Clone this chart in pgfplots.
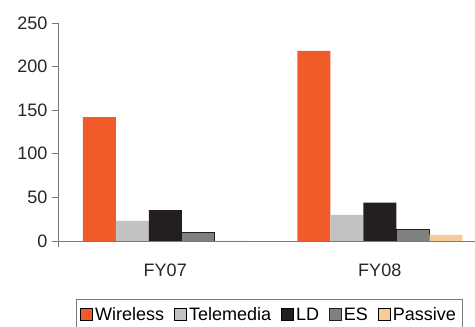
\documentclass[border=0pt]{standalone}
\usepackage{pgfplots}
\pgfplotsset{compat=1.18}
\usepackage{fontspec}
\setmainfont{Liberation Sans}

\definecolor{cWireless}{HTML}{F15A29}
\definecolor{cTele}{HTML}{C2C2C2}
\definecolor{cLD}{HTML}{231F20}
\definecolor{cES}{HTML}{808080}
\definecolor{cPassive}{HTML}{F7CB98}
\definecolor{axisgray}{HTML}{7A7A7A}

\begin{document}
\begin{tikzpicture}[x=1pt,y=1pt]
\useasboundingbox (0,0) rectangle (475,327);
\begin{axis}[
  at={(58pt,86pt)}, anchor=south west,
  scale only axis,
  width=417pt, height=218pt,
  xmin=-0.5, xmax=1.444,
  ymin=0, ymax=250,
  axis x line=bottom, axis y line=left,
  axis line style={draw=axisgray, line width=0.8pt, -},
  y axis line style={shorten <=-6pt},
  ytick={0,50,100,150,200,250},
  xtick={0,1},
  xticklabels={FY07,FY08},
  x tick style={draw=none},
  y tick style={draw=axisgray, line width=0.8pt},
  tick align=outside,
  major tick length=6pt,
  extra x ticks={0.5},
  extra x tick labels={},
  extra x tick style={tick style={draw=axisgray, line width=0.8pt}, major tick length=6pt},
  ticklabel style={font=\fontsize{18}{21}\selectfont, text=black!85},
  /pgf/number format/assume math mode=true,
  yticklabel style={xshift=-1pt},
  xticklabel style={yshift=-13pt},
  ybar=0pt,
  bar width=33pt,
  legend columns=-1,
  legend style={
    at={(0.043,-0.266)}, anchor=north west,
    draw=axisgray, line width=0.8pt,
    font=\fontsize{18}{21}\selectfont,
    inner xsep=4pt, inner ysep=6pt,
    /tikz/every even column/.append style={column sep=8pt},
    cells={anchor=west},
  },
  legend image code/.code={\draw[#1, line width=0.9pt] (0pt,-6pt) rectangle (12pt,6pt);},
]
\addplot[draw=none, fill=cWireless] coordinates {(0,142) (1,218)};
\addplot[draw=none, fill=cTele] coordinates {(0,23) (1,30)};
\addplot[draw=none, fill=cLD] coordinates {(0,35.5) (1,44)};
\addplot[draw=cLD, line width=0.9pt, fill=cES] coordinates {(0,10) (1,13)};
\addplot[draw=none, fill=cPassive] coordinates {(0,0) (1,7)};
\legend{Wireless,Telemedia,LD,ES,Passive}
\end{axis}
\end{tikzpicture}
\end{document}
